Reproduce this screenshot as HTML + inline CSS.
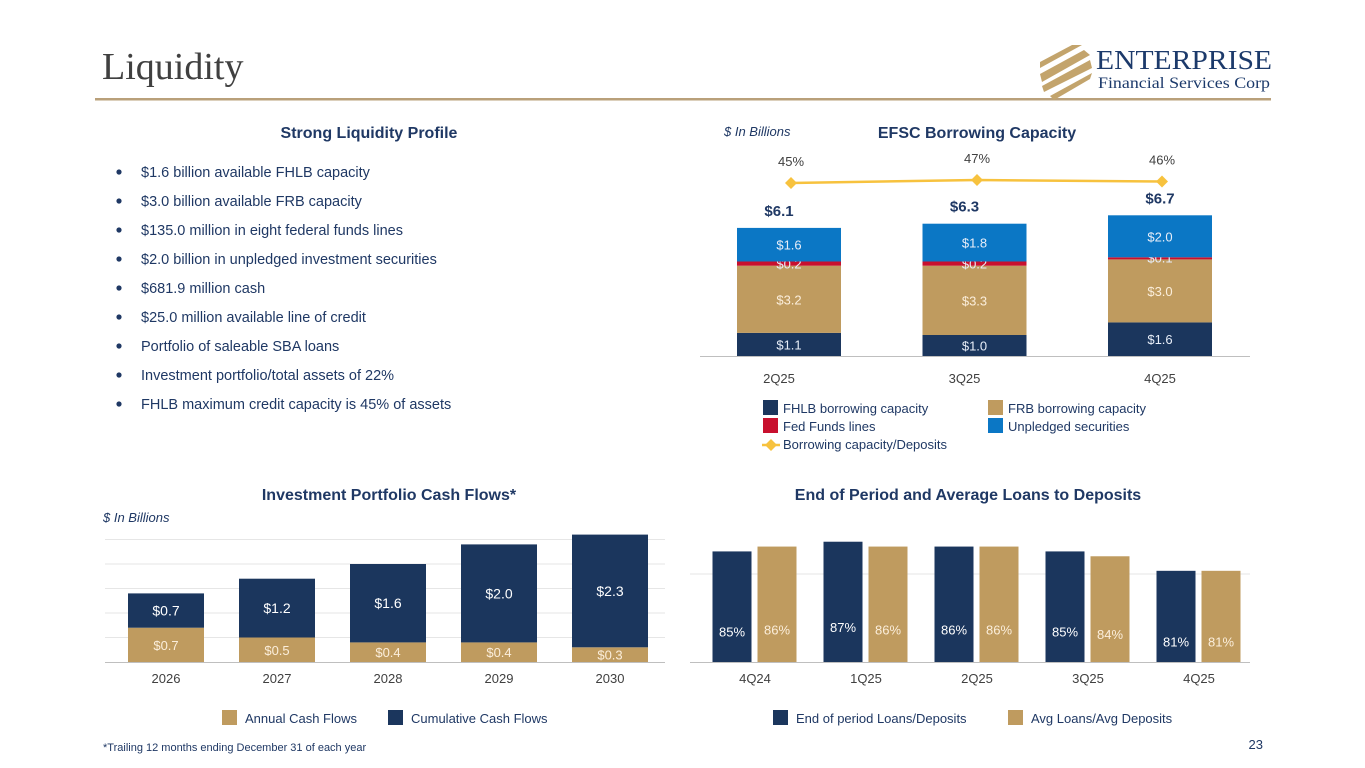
<!DOCTYPE html>
<html><head><meta charset="utf-8"><style>
html,body{margin:0;padding:0;background:#fff;}
svg{display:block;font-family:"Liberation Sans",sans-serif;}
</style></head><body>
<svg id="s" width="1365" height="768" viewBox="0 0 1365 768" xmlns="http://www.w3.org/2000/svg">
<text x="102" y="79" font-family="Liberation Serif,serif" font-size="38" fill="#404040">Liquidity</text>
<rect x="95" y="98" width="1176" height="2.5" fill="#b9a07a"/>
<g>
 <g fill="#c3a46c">
  <polygon points="1040,62 1072,45 1082,45 1040,68"/>
  <polygon points="1040,74 1084,50 1090,55 1042,82"/>
  <polygon points="1042,86 1090,60 1092,68 1044,92"/>
  <polygon points="1050,96 1092,73 1090,79 1054,100"/>
 </g>
 <text x="1096" y="69" font-family="Liberation Serif,serif" font-size="27" fill="#1c3a6b" textLength="176" lengthAdjust="spacingAndGlyphs">ENTERPRISE</text>
 <text x="1098" y="88" font-family="Liberation Serif,serif" font-size="16" fill="#1c3a6b" textLength="172" lengthAdjust="spacingAndGlyphs">Financial Services Corp</text>
</g>

<text x="369" y="138" text-anchor="middle" font-size="16" font-weight="bold" fill="#1f3864">Strong Liquidity Profile</text>
<g id="bullets" font-size="14.5" fill="#1f3864"></g>

<text x="724" y="136" font-size="13" font-style="italic" fill="#1f3864">$ In Billions</text>
<text x="977" y="138" text-anchor="middle" font-size="16" font-weight="bold" fill="#1f3864">EFSC Borrowing Capacity</text>
<g id="c1"></g>

<text x="389" y="500" text-anchor="middle" font-size="16" font-weight="bold" fill="#1f3864">Investment Portfolio Cash Flows*</text>
<text x="103" y="522" font-size="13" font-style="italic" fill="#1f3864">$ In Billions</text>
<g id="c2"></g>

<text x="968" y="500" text-anchor="middle" font-size="16" font-weight="bold" fill="#1f3864">End of Period and Average Loans to Deposits</text>
<g id="c3"></g>

<text x="103" y="751" font-size="11" fill="#1f3864">*Trailing 12 months ending December 31 of each year</text>
<text x="1263" y="749" text-anchor="end" font-size="13" fill="#1f3864">23</text>
</svg>
<script>
var NS="http://www.w3.org/2000/svg";
// ---- data ----
var bulletItems=["$1.6 billion available FHLB capacity","$3.0 billion available FRB capacity","$135.0 million in eight federal funds lines","$2.0 billion in unpledged investment securities","$681.9 million cash","$25.0 million available line of credit","Portfolio of saleable SBA loans","Investment portfolio/total assets of 22%","FHLB maximum credit capacity is 45% of assets"];
var borrowQuarters=["2Q25","3Q25","4Q25"];
var fhlbVals=[1.1,1.0,1.6];
var frbVals=[3.2,3.3,3.0];
var fedFundsVals=[0.2,0.2,0.1];
var unpledgedVals=[1.6,1.8,2.0];
var borrowTotals=["$6.1","$6.3","$6.7"];
var ratioVals=[45,47,46];
var cfYears=["2026","2027","2028","2029","2030"];
var annualCF=[0.7,0.5,0.4,0.4,0.3];
var cumulativeCF=[0.7,1.2,1.6,2.0,2.3];
var ldQuarters=["4Q24","1Q25","2Q25","3Q25","4Q25"];
var eopLD=[85,87,86,85,81];
var avgLD=[86,86,86,84,81];

var NAVY="#1b365d",GOLD="#bf9b5f",RED="#c8102e",BLUE="#0b77c5",YEL="#f7c23e";
function mk(p,tag,at,txt){var e=document.createElementNS(NS,tag);for(var k in at)e.setAttribute(k,at[k]);if(txt!=null)e.textContent=txt;p.appendChild(e);return e;}
function fmt(v){return "$"+v.toFixed(1);}

// bullets
var bl=document.getElementById("bullets");
bulletItems.forEach(function(t,i){
 var y=177+i*29;
 var d=mk(bl,"circle",{cx:119,cy:y-5,r:2.6,fill:"#1f3864"});
 
 
 var tx=mk(bl,"text",{x:141,y:y},t);
 
 
});

// chart 1: borrowing capacity
(function(){
 var g=document.getElementById("c1");
 var base=356,sc=21,x0=789,step=185.5,bw=104;
 function X(i){return x0+i*step;}
 function Y(v){return base-v*sc;}
 function RY(v){return 183-(v-45)*1.5;}
 var ax=mk(g,"line",{x1:700,x2:1250,y1:base+0.5,y2:base+0.5,stroke:"#bfbfbf","stroke-width":1});
 
 
 var series=[[fhlbVals,NAVY,"fhlb"],[frbVals,GOLD,"frb"],[fedFundsVals,RED,"fed-funds"],[unpledgedVals,BLUE,"unpledged"]];
 borrowQuarters.forEach(function(q,i){
  var cum=0;
  series.forEach(function(s,si){
   var v=s[0][i];
   var r=mk(g,"rect",{x:X(i)-bw/2,y:Y(cum+v),width:bw,height:v*sc,fill:s[1]});
   
   
   var ly=(Y(cum)+Y(cum+v))/2+5;
   if(si==2) ly=Y(cum)+3;
   var t=mk(g,"text",{x:X(i),y:ly,"text-anchor":"middle","font-size":13,fill:si==1?"#fbeedb":"#e8eef8"},fmt(v));
   
   
   cum+=v;
  });
  var tt=mk(g,"text",{x:X(i)-(i==2?0:10),y:Y(cum)-12,"text-anchor":"middle","font-size":15,"font-weight":"bold",fill:"#1f3864"},borrowTotals[i]);
  
  
  var xl=mk(g,"text",{x:X(i)-(i==2?0:10),y:383,"text-anchor":"middle","font-size":13,fill:"#404040"},q);
  
  
 });
 var px=[791,977,1162];
 var pts=ratioVals.map(function(v,i){return [px[i],RY(v)];});
 var pl=mk(g,"polyline",{points:pts.map(function(p){return p.join(",");}).join(" "),fill:"none",stroke:YEL,"stroke-width":2.5});
 
 
 pts.forEach(function(p,i){
  var d=mk(g,"polygon",{points:(p[0])+","+(p[1]-6)+" "+(p[0]+6)+","+p[1]+" "+p[0]+","+(p[1]+6)+" "+(p[0]-6)+","+p[1],fill:YEL});
  
  
  var t=mk(g,"text",{x:p[0],y:p[1]-17,"text-anchor":"middle","font-size":13,fill:"#404040"},ratioVals[i]+"%");
  
  
 });
 var leg=[[763,400,NAVY,"FHLB borrowing capacity"],[988,400,GOLD,"FRB borrowing capacity"],[763,418,RED,"Fed Funds lines"],[988,418,BLUE,"Unpledged securities"]];
 leg.forEach(function(l){
  var r=mk(g,"rect",{x:l[0],y:l[1],width:15,height:15,fill:l[2]});
  
  
  var t=mk(g,"text",{x:l[0]+20,y:l[1]+13,"font-size":13,fill:"#1f3864"},l[3]);
  
  
 });
 var ll=mk(g,"line",{x1:762,x2:780,y1:445,y2:445,stroke:YEL,"stroke-width":2.5});
 
 
 var ld=mk(g,"polygon",{points:"771,439 777,445 771,451 765,445",fill:YEL});
 
 
 var lt=mk(g,"text",{x:783,y:449,"font-size":13,fill:"#1f3864"},"Borrowing capacity/Deposits");
 
 
})();

// chart 2: cash flows
(function(){
 var g=document.getElementById("c2");
 var base=662,sc=49,x0=166,step=111,bw=76;
 function X(i){return x0+i*step;}
 function Y(v){return base-v*sc;}
 for(var k=1;k<=5;k++){
  var gl=mk(g,"line",{x1:105,x2:665,y1:Y(k*0.5),y2:Y(k*0.5),stroke:"#e6e6e6","stroke-width":1});
  
  
 }
 cfYears.forEach(function(yr,i){
  var a=annualCF[i],c=cumulativeCF[i];
  var r1=mk(g,"rect",{x:X(i)-bw/2,y:Y(a),width:bw,height:a*sc,fill:GOLD});
  
  
  var r2=mk(g,"rect",{x:X(i)-bw/2,y:Y(a+c),width:bw,height:c*sc,fill:NAVY});
  
  
  var t1=mk(g,"text",{x:X(i),y:(Y(0)+Y(a))/2+5,"text-anchor":"middle","font-size":13,fill:"#fbeedb"},fmt(a));
  
  
  var t2=mk(g,"text",{x:X(i),y:(Y(a)+Y(a+c))/2+5,"text-anchor":"middle","font-size":14,fill:"#fff"},fmt(c));
  
  
  var xl=mk(g,"text",{x:X(i),y:683,"text-anchor":"middle","font-size":13,fill:"#404040"},yr);
  
  
 });
 var ax=mk(g,"line",{x1:105,x2:665,y1:base+0.5,y2:base+0.5,stroke:"#bfbfbf","stroke-width":1});
 
 
 [[222,GOLD,"Annual Cash Flows"],[388,NAVY,"Cumulative Cash Flows"]].forEach(function(l){
  var r=mk(g,"rect",{x:l[0],y:710,width:15,height:15,fill:l[1]});
  
  
  var t=mk(g,"text",{x:l[0]+23,y:723,"font-size":13,fill:"#1f3864"},l[2]);
  
  
 });
})();

// chart 3: loans to deposits
(function(){
 var g=document.getElementById("c3");
 var base=662,sc=4.85,vmin=62.2,x0=755,step=111,bw=39;
 function X(i){return x0+i*step;}
 function Y(v){return base-(v-vmin)*sc;}
 var gl=mk(g,"line",{x1:690,x2:1250,y1:574,y2:574,stroke:"#e6e6e6","stroke-width":1});
 
 
 ldQuarters.forEach(function(q,i){
  [[eopLD[i],NAVY,-23,"eop"],[avgLD[i],GOLD,22,"avg"]].forEach(function(s){
   var r=mk(g,"rect",{x:X(i)+s[2]-bw/2,y:Y(s[0]),width:bw,height:base-Y(s[0]),fill:s[1]});
   
   
   var ly=(Y(s[0])+base)/2+30;
   var t=mk(g,"text",{x:X(i)+s[2],y:ly,"text-anchor":"middle","font-size":13,fill:s[3]=="avg"?"#fbeedb":"#fff"},s[0]+"%");
   
   
  });
  var xl=mk(g,"text",{x:X(i),y:683,"text-anchor":"middle","font-size":13,fill:"#404040"},q);
  
  
 });
 var ax=mk(g,"line",{x1:690,x2:1250,y1:base+0.5,y2:base+0.5,stroke:"#bfbfbf","stroke-width":1});
 
 
 [[773,NAVY,"End of period Loans/Deposits"],[1008,GOLD,"Avg Loans/Avg Deposits"]].forEach(function(l){
  var r=mk(g,"rect",{x:l[0],y:710,width:15,height:15,fill:l[1]});
  
  
  var t=mk(g,"text",{x:l[0]+23,y:723,"font-size":13,fill:"#1f3864"},l[2]);
  
  
 });
})();
</script>
</body></html>
